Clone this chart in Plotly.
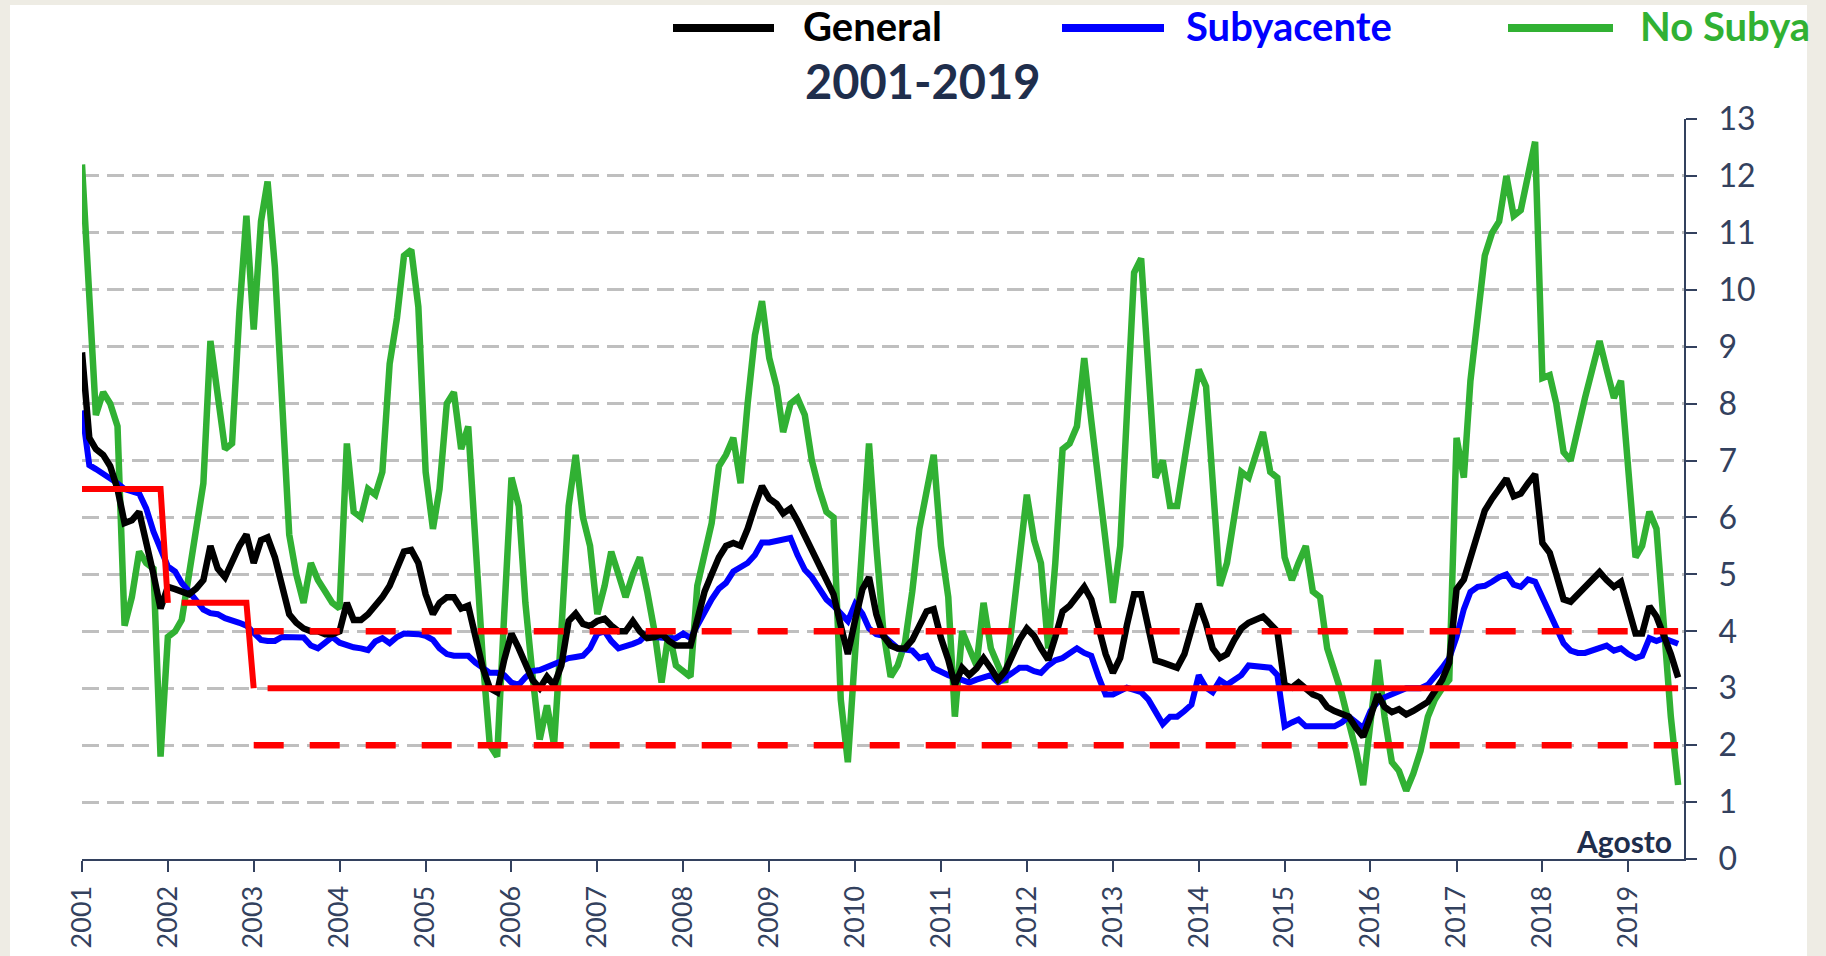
import pandas as pd
import plotly.graph_objects as go

# ---------------- data (monthly, Jan 2001 - Aug 2019) ----------------
months = pd.date_range("2001-01-01", periods=224, freq="MS")

general = [
    8.9, 7.4, 7.2, 7.1, 6.9, 6.5, 5.9, 5.95, 6.1, 5.6, 5.0, 4.4,          # 2001
    4.78, 4.74, 4.7, 4.65, 4.75, 4.9, 5.5, 5.1, 4.95, 5.25, 5.5, 5.7,      # 2002
    5.2, 5.6, 5.65, 5.3, 4.8, 4.3, 4.15, 4.05, 4.0, 4.0, 3.95, 3.95,       # 2003
    4.0, 4.5, 4.2, 4.2, 4.3, 4.45, 4.6, 4.8, 5.1, 5.4, 5.43, 5.2,          # 2004
    4.65, 4.3, 4.5, 4.6, 4.6, 4.4, 4.45, 3.9, 3.36, 3.0, 2.93, 3.5,        # 2005
    3.96, 3.7, 3.4, 3.14, 3.0, 3.2, 3.05, 3.4, 4.18, 4.31, 4.13, 4.09,     # 2006
    4.18, 4.22, 4.1, 4.0, 4.0, 4.18, 4.0, 3.88, 3.9, 3.96, 3.83, 3.75,     # 2007
    3.75, 3.75, 4.2, 4.7, 5.0, 5.3, 5.5, 5.55, 5.5, 5.8, 6.2, 6.55,        # 2008
    6.33, 6.24, 6.07, 6.16, 5.94, 5.68, 5.45, 5.2, 4.9, 4.65, 4.1, 3.6,    # 2009
    4.2, 4.74, 4.95, 4.3, 3.92, 3.75, 3.7, 3.7, 3.85, 4.1, 4.35, 4.39,     # 2010
    3.88, 3.5, 3.06, 3.36, 3.23, 3.35, 3.53, 3.35, 3.15, 3.3, 3.6, 3.85,   # 2011
    4.05, 3.92, 3.7, 3.5, 3.9, 4.35, 4.45, 4.6, 4.78, 4.56, 4.1, 3.6,      # 2012
    3.27, 3.53, 4.1, 4.65, 4.65, 4.0, 3.49, 3.45, 3.4, 3.36, 3.6, 4.0,     # 2013
    4.48, 4.13, 3.7, 3.53, 3.6, 3.85, 4.05, 4.15, 4.2, 4.26, 4.13, 4.0,    # 2014
    3.06, 3.01, 3.1, 3.01, 2.89, 2.84, 2.67, 2.6, 2.54, 2.5, 2.3, 2.15,    # 2015
    2.5, 2.89, 2.67, 2.58, 2.63, 2.54, 2.6, 2.67, 2.76, 2.95, 3.15, 3.45,  # 2016
    4.74, 4.91, 5.3, 5.8, 6.12, 6.33, 6.5, 6.68, 6.37, 6.42, 6.6, 6.76,    # 2017
    5.55, 5.38, 5.0, 4.56, 4.52, 4.65, 4.78, 4.9, 5.04, 4.9, 4.78, 4.87,   # 2018
    4.4, 3.96, 3.96, 4.44, 4.26, 3.95, 3.6, 3.19,                          # 2019
]

subyacente = [
    7.88, 6.92, 6.85, 6.77, 6.71, 6.6, 6.5, 6.45, 6.42, 6.16, 5.75, 5.45,  # 2001
    5.14, 5.05, 4.85, 4.7, 4.55, 4.38, 4.32, 4.3, 4.23, 4.2, 4.15, 4.1,    # 2002
    3.96, 3.85, 3.83, 3.83, 3.9, 3.9, 3.9, 3.89, 3.75, 3.7, 3.8, 3.9,      # 2003
    3.8, 3.75, 3.72, 3.7, 3.67, 3.82, 3.88, 3.79, 3.9, 3.96, 3.96, 3.95,   # 2004
    3.92, 3.85, 3.7, 3.6, 3.57, 3.57, 3.57, 3.45, 3.35, 3.27, 3.27, 3.23,  # 2005
    3.1, 3.06, 3.19, 3.3, 3.32, 3.38, 3.42, 3.49, 3.53, 3.55, 3.57, 3.7,   # 2006
    3.96, 4.0, 3.83, 3.7, 3.73, 3.78, 3.83, 3.96, 3.9, 3.88, 3.88, 3.88,   # 2007
    3.96, 3.88, 4.1, 4.35, 4.56, 4.75, 4.85, 5.05, 5.12, 5.2, 5.34, 5.56,  # 2008
    5.56, 5.58, 5.6, 5.64, 5.34, 5.08, 4.95, 4.74, 4.56, 4.45, 4.31, 4.18, # 2009
    4.48, 4.31, 4.05, 3.95, 3.92, 3.8, 3.7, 3.68, 3.66, 3.53, 3.57, 3.35,  # 2010
    3.28, 3.23, 3.19, 3.15, 3.1, 3.15, 3.19, 3.23, 3.1, 3.2, 3.27, 3.36,   # 2011
    3.36, 3.3, 3.27, 3.4, 3.49, 3.53, 3.6, 3.7, 3.62, 3.57, 3.2, 2.89,     # 2012
    2.89, 2.95, 3.01, 2.97, 2.93, 2.8, 2.58, 2.37, 2.5, 2.5, 2.6, 2.71,    # 2013
    3.23, 3.01, 2.93, 3.14, 3.06, 3.15, 3.23, 3.4, 3.38, 3.36, 3.36, 3.23, # 2014
    2.33, 2.4, 2.45, 2.33, 2.33, 2.33, 2.33, 2.33, 2.4, 2.5, 2.4, 2.3,     # 2015
    2.6, 2.76, 2.84, 2.9, 2.95, 3.0, 3.0, 3.0, 3.06, 3.19, 3.36, 3.53,     # 2016
    3.9, 4.39, 4.69, 4.78, 4.8, 4.87, 4.95, 5.0, 4.82, 4.78, 4.91, 4.87,   # 2017
    4.6, 4.3, 4.09, 3.79, 3.66, 3.62, 3.62, 3.66, 3.7, 3.75, 3.66, 3.7,    # 2018
    3.6, 3.53, 3.57, 3.88, 3.83, 3.88, 3.83, 3.78,                         # 2019
]

no_subyacente = [
    12.2, 9.8, 7.8, 8.2, 8.0, 7.6, 4.1, 4.6, 5.4, 5.2, 5.1, 1.8,           # 2001
    3.9, 4.0, 4.2, 5.0, 5.8, 6.6, 9.1, 8.1, 7.2, 7.3, 9.6, 11.3,           # 2002
    9.3, 11.2, 11.9, 10.4, 8.1, 5.7, 5.0, 4.5, 5.2, 4.9, 4.7, 4.5,         # 2003
    4.4, 7.3, 6.1, 6.0, 6.5, 6.4, 6.8, 8.7, 9.5, 10.6, 10.7, 9.7,          # 2004
    6.8, 5.8, 6.5, 8.0, 8.2, 7.2, 7.6, 5.5, 3.5, 2.0, 1.8, 4.3,            # 2005
    6.7, 6.2, 4.5, 3.2, 2.1, 2.7, 2.0, 4.0, 6.2, 7.1, 6.0, 5.5,            # 2006
    4.3, 4.8, 5.4, 5.0, 4.6, 5.0, 5.3, 4.7, 4.0, 3.1, 4.0, 3.4,            # 2007
    3.3, 3.2, 4.8, 5.4, 5.9, 6.9, 7.1, 7.4, 6.6, 8.0, 9.2, 9.8,            # 2008
    8.8, 8.3, 7.5, 8.0, 8.1, 7.8, 7.0, 6.5, 6.1, 6.0, 2.8, 1.7,            # 2009
    3.5, 5.5, 7.3, 5.5, 4.0, 3.2, 3.4, 3.8, 4.7, 5.8, 6.5, 7.1,            # 2010
    5.5, 4.6, 2.5, 4.0, 3.7, 3.4, 4.5, 3.7, 3.4, 3.1, 4.2, 5.3,            # 2011
    6.4, 5.6, 5.2, 3.7, 5.2, 7.2, 7.3, 7.6, 8.8, 7.7, 6.6, 5.5,            # 2012
    4.5, 5.5, 8.0, 10.3, 10.55, 8.6, 6.7, 7.0, 6.2, 6.2, 7.0, 7.8,         # 2013
    8.6, 8.3, 6.5, 4.8, 5.2, 6.0, 6.8, 6.7, 7.1, 7.5, 6.8, 6.7,            # 2014
    5.3, 4.9, 5.2, 5.5, 4.7, 4.6, 3.7, 3.3, 2.9, 2.4, 1.9, 1.3,            # 2015
    2.4, 3.5, 2.5, 1.7, 1.55, 1.2, 1.5, 1.9, 2.5, 2.8, 3.0, 3.15,          # 2016
    7.4, 6.7, 8.4, 9.5, 10.6, 11.0, 11.2, 12.0, 11.3, 11.4, 12.0, 12.6,    # 2017
    8.45, 8.5, 8.0, 7.15, 7.0, 7.6, 8.1, 8.6, 9.1, 8.6, 8.1, 8.4,          # 2018
    6.8, 5.3, 5.5, 6.1, 5.8, 4.0, 2.5, 1.3,                                # 2019
]

# inflation target (solid) and tolerance band (dashed)
target_dates = ["2001-01-01", "2001-12-01", "2002-01-01", None,
                "2002-03-01", "2002-12-01", "2003-01-01", None,
                "2003-03-01", "2019-08-01"]
target_values = [6.5, 6.5, 4.5, None, 4.5, 4.5, 3.0, None, 3.0, 3.0]
band_dates = ["2003-01-01", "2019-08-01"]
band_upper = [4.0, 4.0]
band_lower = [2.0, 2.0]

year_ticks = [f"{y}-01-01" for y in range(2001, 2020)]
year_labels = [str(y) for y in range(2001, 2020)]

series_names = ["General", "Subyacente", "No Subya"]
series_colors = ["#000000", "#0000FF", "#31B133"]

# ---------------- figure ----------------
W, H = 1826, 956
L, R, T, B = 82, 142, 119, 97
pw, ph = W - L - R, H - T - B


def px_x(x):
    return (x - L) / pw


def px_y(y):
    return (H - B - y) / ph


fig = go.Figure()

fig.add_trace(go.Scatter(x=months, y=no_subyacente, mode="lines",
                         line=dict(color=series_colors[2], width=6.5),
                         name=series_names[2]))
fig.add_trace(go.Scatter(x=months, y=subyacente, mode="lines",
                         line=dict(color=series_colors[1], width=6),
                         name=series_names[1]))
fig.add_trace(go.Scatter(x=months, y=general, mode="lines",
                         line=dict(color=series_colors[0], width=6.5),
                         name=series_names[0]))
fig.add_trace(go.Scatter(x=target_dates, y=target_values, mode="lines",
                         line=dict(color="#FF0000", width=6),
                         connectgaps=False, name="Meta"))
fig.add_trace(go.Scatter(x=band_dates, y=band_upper, mode="lines",
                         line=dict(color="#FF0000", width=6.5, dash="30px,26px"),
                         name="Techo"))
fig.add_trace(go.Scatter(x=band_dates, y=band_lower, mode="lines",
                         line=dict(color="#FF0000", width=6.5, dash="30px,26px"),
                         name="Piso"))

axis_color = "#33415E"
font_family = "Lato, 'Open Sans', sans-serif"

shapes = [
    # white panel on beige page
    dict(type="rect", xref="paper", yref="paper", layer="below",
         x0=px_x(10), x1=px_x(1807), y0=px_y(980), y1=px_y(5),
         fillcolor="white", line=dict(width=0)),
]
annotations = [
    dict(text="<b>2001-2019</b>", xref="paper", yref="paper",
         x=px_x(923), y=px_y(81), xanchor="center", yanchor="middle",
         showarrow=False, font=dict(family=font_family, size=47, color="#1F2E4C")),
    dict(text="<b>Agosto</b>", xref="paper", yref="paper",
         x=px_x(1674), y=px_y(841), xanchor="right", yanchor="middle",
         showarrow=False, font=dict(family=font_family, size=30, color="#1F2E4C")),
]

legend_line_x = [(673, 774), (1062, 1164), (1508, 1613)]
legend_text_x = [801, 1184, 1638]
for name, color, (lx0, lx1), tx in zip(series_names, series_colors, legend_line_x, legend_text_x):
    shapes.append(dict(type="line", xref="paper", yref="paper",
                       x0=px_x(lx0), x1=px_x(lx1), y0=px_y(28), y1=px_y(28),
                       line=dict(color=color, width=8)))
    annotations.append(dict(text=f"<b>{name}</b>", xref="paper", yref="paper",
                            x=px_x(tx), y=px_y(26), xanchor="left", yanchor="middle",
                            showarrow=False,
                            font=dict(family=font_family, size=40, color=color)))

fig.update_layout(
    width=W, height=H,
    margin=dict(l=L, r=R, t=T, b=B, autoexpand=False),
    paper_bgcolor="#EEECE4",
    plot_bgcolor="rgba(0,0,0,0)",
    showlegend=False,
    shapes=shapes,
    annotations=annotations,
    font=dict(family=font_family, color=axis_color),
    xaxis=dict(
        type="date",
        range=["2001-01-01", "2019-08-26"],
        tickvals=year_ticks, ticktext=year_labels,
        tickangle=-90,
        showgrid=False, zeroline=False,
        showline=True, linecolor=axis_color, linewidth=2,
        ticks="outside", ticklen=11, tickwidth=2, tickcolor=axis_color,
        tickfont=dict(family=font_family, size=27, color=axis_color),
        ticklabelstandoff=3,
    ),
    yaxis=dict(
        side="right",
        range=[0, 13], dtick=1, tick0=0,
        showgrid=True, gridcolor="#BFBFBF", gridwidth=2.5, griddash="17px,8px",
        zeroline=False,
        showline=True, linecolor=axis_color, linewidth=2,
        ticks="outside", ticklen=11, tickwidth=2, tickcolor=axis_color,
        tickfont=dict(family=font_family, size=32, color=axis_color),
        ticklabelstandoff=15,
    ),
)

fig.write_html(
    "out.html",
    config={"displayModeBar": False},
    post_script="document.body.style.margin='0';document.body.style.background='#EEECE4';",
)
